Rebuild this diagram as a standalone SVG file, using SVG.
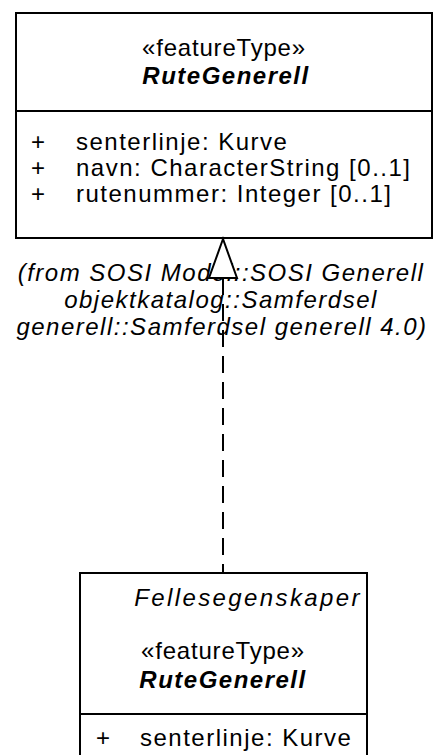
<svg xmlns="http://www.w3.org/2000/svg" width="444" height="755" viewBox="0 0 444 755">
<style>
text{font-family:"Liberation Sans",Arial,sans-serif;font-size:24px;fill:#000;letter-spacing:1.5px}
.c{text-anchor:middle}
.n{font-weight:bold;font-style:italic}
.i{font-style:italic}
.s{letter-spacing:0.8px}
.box{fill:#fff;stroke:#000;stroke-width:2}
.ln{stroke:#000;stroke-width:2;fill:none}
</style>
<rect width="444" height="755" fill="#fff"/>
<g id="RuteGenerell_parent">
<rect class="box" x="16" y="13" width="416" height="225"/>
<line class="ln" x1="16" y1="111" x2="432" y2="111"/>
<text class="c s" x="224" y="56">«featureType»</text>
<text class="c n" x="226" y="84">RuteGenerell</text>
<text x="31" y="150">+</text>
<text x="76" y="150">senterlinje: Kurve</text>
<text x="31" y="176">+</text>
<text x="76" y="176">navn: CharacterString [0..1]</text>
<text x="31" y="202">+</text>
<text x="76" y="202">rutenummer: Integer [0..1]</text>
</g>
<g id="RuteGenerell_child">
<rect class="box" x="80" y="573" width="287" height="200"/>
<line class="ln" x1="80" y1="714" x2="367" y2="714"/>
<text class="i" x="362" y="606" text-anchor="end" style="letter-spacing:2.4px">Fellesegenskaper</text>
<text class="c s" x="223" y="659">«featureType»</text>
<text class="c n" x="223" y="688">RuteGenerell</text>
<text x="96" y="746">+</text>
<text x="140" y="746">senterlinje: Kurve</text>
</g>
<g id="connectors">
<line class="ln" x1="223" y1="278" x2="223" y2="573" stroke-dasharray="17,9"/>
<text class="c i" x="221" y="281">(from SOSI Model::SOSI Generell</text>
<text class="c i" x="221" y="308">objektkatalog::Samferdsel</text>
<text class="c i" x="222" y="335">generell::Samferdsel generell 4.0)</text>
<polygon points="223,239 209,278 237,278" fill="#fff" stroke="#000" stroke-width="2"/>
</g>
</svg>
